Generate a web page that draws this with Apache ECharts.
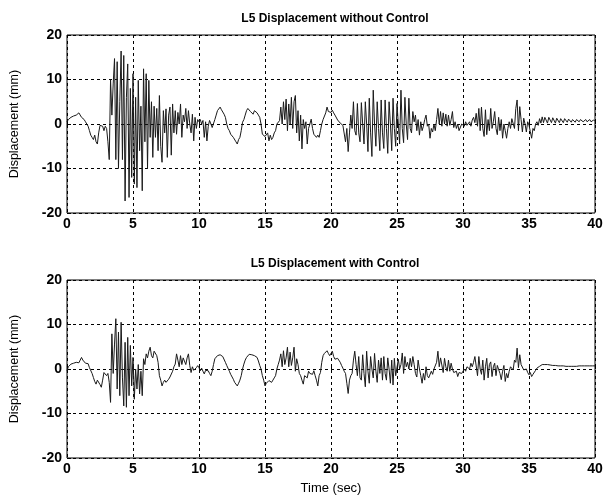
<!DOCTYPE html>
<html>
<head>
<meta charset="utf-8">
<script src="https://cdn.jsdelivr.net/npm/echarts@6/dist/echarts.min.js"></script>
<style>html,body{margin:0;padding:0;background:#fff;}#c{width:610px;height:501px;}</style>
</head>
<body>
<div id="c"></div>
<script>
// Sampling step of the recorded time histories (s)
const timeStep = 0.1;
const xTicks = [0, 5, 10, 15, 20, 25, 30, 35, 40];
const yTicks = [-20, -10, 0, 10, 20];
const titles = ['L5 Displacement without Control', 'L5 Displacement with Control'];
const yName = 'Displacement (mm)';
const xName = 'Time (sec)';

// L5 displacement without control (mm), one value per 0.1 s from 0 to 40 s
const withoutControl = [
 0.5,1.0,0.8,1.5,1.2,1.8,1.5,2.0,1.8,2.5,
 2.2,1.5,1.8,1.0,0.5,0.0,-0.5,-1.5,-2.5,-3.0,
 -3.5,-2.5,-4.0,-4.5,-2.0,-0.3,0.0,-0.5,-1.5,-0.5,
 -1,-4,-8,10,2,9,14.7,-8,14,-10,
 5,16.4,-8,15.4,-17.3,6,13.5,-16.5,8,-12,
 11.3,-13.5,6,-14.3,9.8,-6,4,-15,12.4,-4,
 11.3,-10,9.8,-3,5,-7.5,4,-3,3.5,-6,
 6.4,-5,-8.6,3,-2,3.4,-7.5,2,3.8,-7,
 4.5,-2,3,-2.3,2.6,0,4.5,-3,2,0.5,
 3.5,-1,3,0,-2,2.2,-3.8,1.5,-1,1,
 0.5,1.0,0,0.8,-3,0.5,-3.8,-0.5,0.8,0,
 -0.8,-0.5,1.0,2.0,3.0,2.8,3.8,3.2,3.5,2.2,
 1.5,0,-1,-1.5,-2.3,-2,-3,-3.4,-4,-4.5,
 -3.5,-3,-1.5,0.4,1,2,3,3.5,3.4,2.8,
 2.5,2.2,3,3.2,2.5,2,1.5,0,-2.3,-2,
 -2.8,-3,-2,-3.8,-2.5,-3.5,-3,-2,-1.5,0,
 0.3,0.75,3.8,0,5,1,5.6,-1.5,4.5,0,
 6,-1,5,6.4,-2,3,-3.8,2,-5.6,1,
 -1,0.5,-4.5,-1,0,1.1,-1,-2.3,-2,-3,
 -2.5,-3,-1.5,0,1,1,2.5,3.8,2.8,2.6,
 2.6,3.1,2.5,2.0,2.2,0.9,1.2,0.2,0.5,-0.3,
 -0.6,-4,-1,-6.2,-2,2,-1,5,-1.5,-2.5,
 4.6,-2,-4,4.8,0,-4.5,5,0,-6.2,5.8,
 -2,-7.3,7.6,0,-5,5,-1,-6,5.4,-2,
 -5.5,5.4,-1,-6.6,5,0,-6,5.8,-1,-5,
 4.6,0,-4.5,7.6,-1,-4.2,6,0,-3.5,5.8,
 -1,-2,2.8,0.5,2,-1.5,1,-2.5,0.5,-1.5,
 -0.5,1,2,-0.5,0,-3.2,-1,-1.8,0,-1.5,
 1,3.5,0,2.8,-0.5,2.5,0,2.2,-0.5,2,
 -0.3,1,2.8,-0.8,0.5,-1,0,-1.5,-1.7,0,
 0.2,-0.5,0.5,-0.3,0,0.5,-0.5,0.9,1.5,0.3,
 2.4,-0.5,3.5,-1.5,3.8,-1,-2.8,3.2,-2.4,1,
 -1.5,3.5,-1,0.5,2.8,-1,-2.4,1.5,-1.5,1,
 -3.2,0,-1.5,-3.2,-1,0.5,-1,1.2,1.6,-1,
 3.5,5.4,-1.5,3.9,1,-1.8,1.3,0,-1.8,0.5,
 -0.3,-1.7,-3.2,-1,-1.5,0,0.5,-0.3,1.2,0.2,
 1.6,0.3,1.5,1.8,0.2,1.5,1.7,0.3,1.4,1.6,
 0.2,1.3,1.5,0.3,1.2,1.4,0.3,1.2,1.3,0.4,
 1.1,1.3,0.4,1.0,1.2,0.4,1.0,1.2,0.5,1.0,
 1.1,0.5,0.9,1.0,0.5,0.9,1.0,0.5,0.8,0.9,
 0.6
];

// L5 displacement with control (mm), one value per 0.1 s from 0 to 40 s
const withControl = [
 -0.4,0.5,0.3,1.1,0.8,1.3,1.0,1.5,1.8,1.4,
 2.0,2.6,2.0,1.8,1.3,1.1,1.2,0.3,0,-1.0,
 -1.9,-2.8,-3.4,-2.5,-2.2,-3.5,-4.1,-2.5,-0.8,-1.2,
 -1.5,-1.0,-3.0,-7.5,7.9,-1,5.6,11.3,-4.5,8.3,
 -6.0,10.5,-2,-8.3,6.0,-8.6,7.1,-6.0,5.3,-3.8,
 2.6,-6.8,0,-4.5,1,-5.6,-0.5,-6.0,2.3,1.0,
 3.4,2.5,4.0,4.9,3.0,2.5,4.0,4.1,3.0,1.5,
 -1.5,-2.5,-3.8,-3.0,-2.5,-3.0,-2.8,-2.3,-1.8,-1.5,
 -0.5,0.5,1.1,3.4,2.0,0.5,3.0,1.0,2.5,2.2,
 1.0,2.5,3.4,0.8,-0.8,0.5,-0.3,0,0.3,0.75,
 0.3,-0.4,0.2,-0.5,-1.1,-0.3,-0.6,-0.4,-1.0,-1.5,
 -0.5,1.0,2.3,2.6,3.0,2.8,3.2,3.2,2.8,2.4,
 1.5,0.8,0.4,-0.5,-1.2,-1.6,-2.3,-3.0,-3.4,-3.8,
 -3.2,-2.5,-1.5,0,1.1,2.0,2.6,3.0,3.3,3.4,
 3.2,3.0,3.0,2.8,2.6,1.8,0.8,0,-1.5,-2.5,
 -3.8,-3.2,-2.8,-2.6,-3.0,-3.0,-2.5,-2.0,-1.5,0,
 1.0,2.0,3.4,0.5,4.1,1.0,2.5,4.9,0.5,3.8,
 0.8,2.5,4.9,-0.5,2.3,1.0,-1.0,-1.5,-2.5,-3.4,
 -1.5,-1.5,-2.0,-0.5,-1.0,-0.8,-1.2,-0.4,-1.5,-2.5,
 -3.8,-1.5,-0.8,1.5,3.0,3.5,3.8,4.1,3.5,3.0,
 3.0,4.0,2.8,2.2,2.0,2.4,2.2,1.5,0.8,0.2,
 -0.5,-1.0,-3.2,-5.5,-2.5,-1.5,-1.0,2.0,4.0,1.0,
 -1.5,2.8,-2.0,-2.5,3.2,-1.0,-4.0,4.0,-0.5,-3.2,
 2.8,0,-2.0,3.5,-0.5,-3.0,2.0,-1.0,2.5,-2.5,
 2.8,-1.0,-2.5,2.5,0,-3.2,2.0,-3.6,2.4,-1.5,
 -1.8,2.2,0,1.0,3.6,-1.0,2.8,0.5,1.5,0,
 2.4,0.5,2.8,1.0,-1.0,-1.8,2.0,0,-1.5,-3.2,
 -1.0,-2.5,0.5,-1.5,-2.0,-1.8,-0.5,-1.2,0,-0.2,
 1.5,4.0,0.5,2.5,2.4,-0.8,2.4,0.5,-0.5,2.0,
 -0.5,1.3,0,-0.8,-1.0,-0.5,-1.7,-0.8,-1.2,-1.0,
 -0.5,0,-0.5,0.5,0.6,0,1.3,0.5,1.5,2.8,
 3.2,-1.5,2.8,0,-1.2,2.0,-2.5,0.5,2.4,-2.0,
 1.0,1.6,-1.7,0.5,1.3,-1.5,0.8,1.2,-1.0,-2.4,
 -0.5,0.8,-2.8,-1.0,-2.0,-0.5,0.5,0.9,-0.2,2.0,
 1.5,4.7,0.3,3.2,1.0,0.8,-0.2,-0.5,0,-0.8,
 -1.3,-0.8,-1.7,-1.2,-0.8,-0.3,0.2,0.4,0.6,0.9,
 1.0,1.2,1.0,1.2,1.0,1.1,0.9,1.0,0.8,1.0,
 0.8,0.9,0.7,0.9,0.7,0.8,0.7,0.8,0.6,0.8,
 0.6,0.7,0.6,0.7,0.6,0.7,0.6,0.7,0.7,0.8,
 0.7,0.8,0.7,0.8,0.7,0.8,0.7,0.8,0.7,0.7,
 0.7
];

function pairs(values) {
  return values.map((v, i) => [+(i * timeStep).toFixed(2), v]);
}

const FONT = '"Liberation Sans", Arial, sans-serif';
const chart = echarts.init(document.getElementById('c'), null, {renderer: 'canvas'});

const grids = [
  {left: 66, right: 15, top: 35, height: 178},
  {left: 66, right: 15, top: 280, height: 178}
];

function xAxis(idx, withName) {
  return {
    type: 'value', gridIndex: idx, min: xTicks[0], max: xTicks[xTicks.length - 1],
    interval: xTicks[1] - xTicks[0],
    name: withName ? xName : '', nameLocation: 'middle', nameGap: 24,
    nameTextStyle: {color: '#000', fontFamily: FONT, fontSize: 13},
    axisLine: {show: false},
    axisTick: {show: true, inside: true, length: 4, lineStyle: {color: '#000'}},
    axisLabel: {color: '#000', fontFamily: FONT, fontSize: 14, fontWeight: 'bold', margin: 4},
    splitLine: {show: true, lineStyle: {color: '#000', type: [3, 3], width: 1}}
  };
}
function yAxis(idx) {
  return {
    type: 'value', gridIndex: idx, min: yTicks[0], max: yTicks[yTicks.length - 1],
    interval: yTicks[1] - yTicks[0],
    name: yName, nameLocation: 'middle', nameGap: 46,
    nameTextStyle: {color: '#000', fontFamily: FONT, fontSize: 12.5},
    axisLine: {show: false},
    axisTick: {show: true, inside: true, length: 4, lineStyle: {color: '#000'}},
    axisLabel: {color: '#000', fontFamily: FONT, fontSize: 14, fontWeight: 'bold', margin: 5},
    splitLine: {show: true, lineStyle: {color: '#000', type: [3, 3], width: 1}}
  };
}

chart.setOption({
  animation: false,
  backgroundColor: '#fff',
  title: [
    {text: titles[0], left: 330, top: 8, textAlign: 'center',
     textStyle: {color: '#000', fontFamily: FONT, fontSize: 12, fontWeight: 'bold'}},
    {text: titles[1], left: 330, top: 253, textAlign: 'center',
     textStyle: {color: '#000', fontFamily: FONT, fontSize: 12, fontWeight: 'bold'}}
  ],
  grid: grids.map(g => Object.assign({show: true, borderColor: '#000', borderWidth: 1, backgroundColor: 'transparent'}, g)),
  xAxis: [xAxis(0, false), xAxis(1, true)],
  yAxis: [yAxis(0), yAxis(1)],
  series: [
    {type: 'line', xAxisIndex: 0, yAxisIndex: 0, data: pairs(withoutControl), showSymbol: false,
     lineStyle: {color: '#1a1a1a', width: 1}, sampling: null},
    {type: 'line', xAxisIndex: 1, yAxisIndex: 1, data: pairs(withControl), showSymbol: false,
     lineStyle: {color: '#1a1a1a', width: 1}, sampling: null}
  ]
});
</script>
</body>
</html>
